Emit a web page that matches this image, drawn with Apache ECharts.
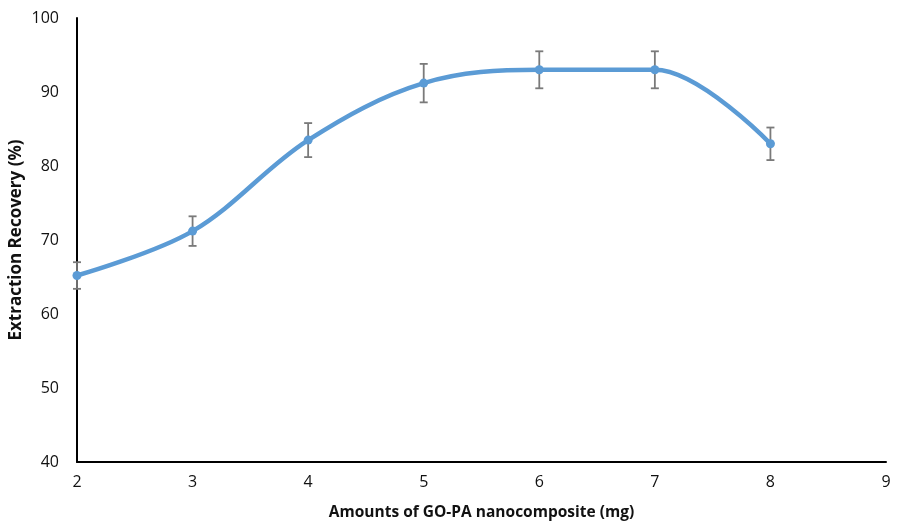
<!DOCTYPE html>
<html><head><meta charset="utf-8">
<script src="https://cdn.jsdelivr.net/npm/echarts@6/dist/echarts.min.js"></script>
<style>html,body{margin:0;padding:0;background:#fff}#c{width:898px;height:525px}</style>
</head><body><div id="c"></div>
<script>
var amounts = [2, 3, 4, 5, 6, 7, 8];
var recovery = [65.2, 71.2, 83.5, 91.2, 93.0, 93.0, 83.0];
var errors = [1.8, 2.0, 2.3, 2.6, 2.5, 2.5, 2.2];
var yTicks = [40, 50, 60, 70, 80, 90, 100];
var xTicks = [2, 3, 4, 5, 6, 7, 8, 9];

var lineData = amounts.map(function (x, i) { return [x, recovery[i]]; });
var errData = amounts.map(function (x, i) { return [x, recovery[i] - errors[i], recovery[i] + errors[i]]; });

var chart = echarts.init(document.getElementById('c'));
chart.setOption({
  animation: false,
  grid: { left: 77, right: 12, top: 18, bottom: 63, containLabel: false, outerBoundsMode: 'none' },
  xAxis: {
    type: 'value', min: xTicks[0], max: xTicks[xTicks.length - 1], interval: 1,
    name: 'Amounts of GO-PA nanocomposite (mg)', nameLocation: 'middle', nameGap: 43,
    nameMoveOverlap: false,
    nameTextStyle: { fontFamily: 'Open Sans', fontWeight: 'bold', fontSize: 15.5, color: '#111' },
    axisLine: { lineStyle: { color: '#000', width: 2 } },
    axisTick: { show: false },
    splitLine: { show: false },
    axisLabel: { fontFamily: 'Open Sans', fontSize: 16, color: '#111', margin: 12 }
  },
  yAxis: {
    type: 'value', min: yTicks[0], max: yTicks[yTicks.length - 1], interval: 10,
    name: 'Extraction Recovery (%)', nameLocation: 'middle', nameGap: 52,
    nameMoveOverlap: false,
    nameTextStyle: { fontFamily: 'Open Sans', fontWeight: 'bold', fontSize: 17, color: '#111' },
    axisLine: { show: true, lineStyle: { color: '#000', width: 2 } },
    axisTick: { show: false },
    splitLine: { show: false },
    axisLabel: { fontFamily: 'Open Sans', fontSize: 16, color: '#111', margin: 18 }
  },
  series: [
    {
      type: 'custom',
      data: errData,
      z: 1,
      renderItem: function (params, api) {
        var x = api.value(0);
        var lo = api.coord([x, api.value(1)]);
        var hi = api.coord([x, api.value(2)]);
        var w = 4;
        var st = { stroke: '#7a7a7a', lineWidth: 1.8 };
        return {
          type: 'group',
          children: [
            { type: 'line', shape: { x1: lo[0], y1: lo[1], x2: hi[0], y2: hi[1] }, style: st },
            { type: 'line', shape: { x1: lo[0] - w, y1: lo[1], x2: lo[0] + w, y2: lo[1] }, style: st },
            { type: 'line', shape: { x1: hi[0] - w, y1: hi[1], x2: hi[0] + w, y2: hi[1] }, style: st }
          ]
        };
      }
    },
    {
      type: 'line',
      data: lineData,
      smooth: 0.35,
      z: 2,
      symbol: 'circle',
      symbolSize: 9,
      lineStyle: { color: '#5B9BD5', width: 4.5 },
      itemStyle: { color: '#5B9BD5' }
    }
  ]
});
</script>
</body></html>
